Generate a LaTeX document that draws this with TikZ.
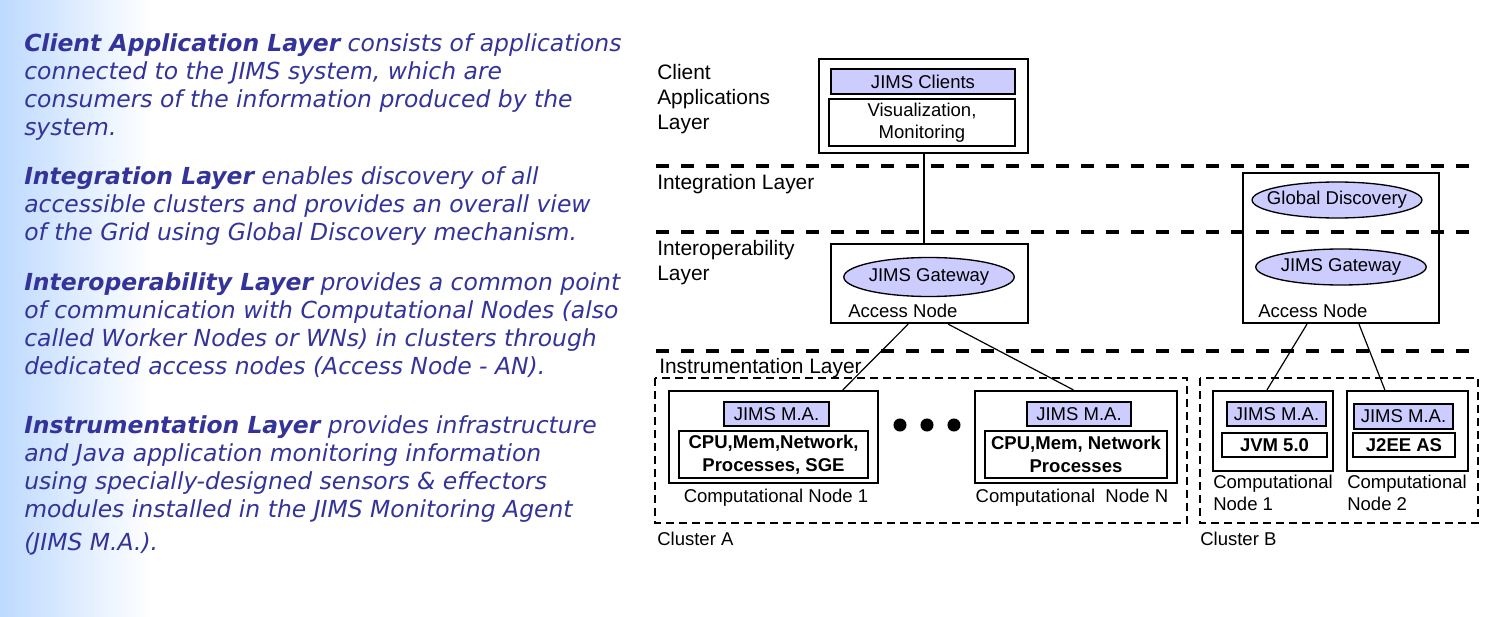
\documentclass[tikz,border=0pt]{standalone}
\usepackage{fontspec}
\setmainfont{Liberation Sans}
\newfontfamily\descfont{DejaVu Sans}
\usepackage{tikz}
\usetikzlibrary{shapes,calc}
\definecolor{bleutexte}{RGB}{51,51,153}
\definecolor{bleufond}{RGB}{190,218,255}
\definecolor{lavande}{RGB}{204,204,255}
\tikzset{desc/.style={
    font=\descfont\itshape\fontsize{17.6}{21}\selectfont,
    text=bleutexte, align=left, anchor=base west, inner sep=0pt}}
\tikzset{couche/.style={
    line width=3pt, dash pattern=on 9.75pt off 9pt}}
\tikzset{grappe/.style={
    line width=1.1pt, dash pattern=on 6pt off 3.75pt}}
\tikzset{boite/.style={
    draw, line width=1.7pt, inner sep=0pt}}
\tikzset{agent/.style={
    boite, fill=lavande}}
\tikzset{passerelle/.style={
    ellipse, draw, line width=1pt, fill=lavande, inner sep=0pt}}
\tikzset{lbl/.style={
    font=\fontsize{15.7}{18.75}\selectfont, align=left, anchor=base west, inner sep=0pt}}
\tikzset{petit/.style={
    font=\fontsize{13.9}{16.5}\selectfont}}
\tikzset{gras/.style={
    font=\bfseries\fontsize{13.9}{17}\selectfont}}
\tikzset{lien/.style={
    line width=0.9pt}}

\begin{document}
\begin{tikzpicture}[x=0.75pt,y=-0.75pt]
\useasboundingbox (0,0) rectangle (1490,617);
  % fond : degrade en bandes
  \foreach \i [evaluate=\i as \p using int(100*\i/60)] in {0,...,59}
    \fill[white!\p!bleufond] (\i*2.5,0) rectangle (\i*2.5+3,617);

  % texte (ancre sur la derniere ligne)
  \node[desc] (pclient) at (24,136) {\textbf{Client Application Layer} consists of applications\\
    connected to the JIMS system, which are\\
    consumers of the information produced by the\\
    system.};
  \node[desc] (pinteg) at (24,240) {\textbf{Integration Layer} enables discovery of all\\
    accessible clusters and provides an overall view\\
    of the Grid using Global Discovery mechanism.};
  \node[desc] (pinterop) at (24,374) {\textbf{Interoperability Layer} provides a common point\\
    of communication with Computational Nodes (also\\
    called Worker Nodes or WNs) in clusters through\\
    dedicated access nodes (Access Node - AN).};
  \node[desc] (pinstr) at (24,550) {\textbf{Instrumentation Layer} provides infrastructure\\
    and Java application monitoring information\\
    using specially-designed sensors \& effectors\\
    modules installed in the JIMS Monitoring Agent\\[3.4pt]
    (JIMS M.A.).};

  % couches
  \draw[couche] (656,166) -- (1478,166);
  \draw[couche] (656,232) -- (1478,232);
  \draw[couche] (656,351) -- (1478,351);
  \node[lbl] (lclient) at (657,130) {Client\\Applications\\Layer};
  \node[lbl] (linteg) at (657,190) {Integration Layer};
  \node[lbl] (linterop) at (657,280.7) {Interoperability\\Layer};
  \node[lbl] (linstr) at (659,373) {Instrumentation Layer};

  % clients
  \node[boite, minimum width=156.75pt, minimum height=70.5pt] (client) at (923.5,106) {};
  \node[agent, petit, minimum width=138pt, minimum height=18.75pt] (jclients) at (923,81.5) {JIMS Clients};
  \node[boite, petit, align=center, minimum width=139.5pt, minimum height=35.25pt] (visu) at (922,122.5) {Visualization,\\Monitoring};

  % noeuds d'acces
  \node[boite, minimum width=147.75pt, minimum height=59.25pt] (anA) at (929.5,283.5) {};
  \node[passerelle, petit, minimum width=127.5pt, minimum height=29.25pt] (gwA) at (929,277) {JIMS Gateway};
  \node[petit, anchor=base west, inner sep=0pt] (lanA) at (848,317) {Access Node};
  \node[boite, minimum width=147pt, minimum height=112.5pt] (anB) at (1341,248) {};
  \node[passerelle, petit, inner xsep=-7.5pt, minimum width=126.75pt, minimum height=27pt] (gd) at (1337,200) {Global Discovery};
  \node[passerelle, petit, minimum width=127.5pt, minimum height=27pt] (gwB) at (1341,267) {JIMS Gateway};
  \node[petit, anchor=base west, inner sep=0pt] (lanB) at (1258,317) {Access Node};

  % cluster A
  \draw[grappe] (655,378) rectangle (1187,523);
  \node[petit, anchor=base west, inner sep=0pt] (lclA) at (657,545) {Cluster A};
  \node[boite, minimum width=156.75pt, minimum height=69pt] (cnA1) at (773.5,437) {};
  \node[agent, petit, minimum width=78.75pt, minimum height=18pt] (maA1) at (776.5,414) {JIMS M.A.};
  \node[boite, gras, align=center, minimum width=141.75pt, minimum height=35.25pt] (resA1) at (773.5,454.5) {CPU,Mem,Network,\\Processes, SGE};
  \node[petit, anchor=base, inner sep=0pt] (lcnA1) at (776,502) {Computational Node 1};
  \fill (900,425) circle[radius=4.9pt];
  \fill (927,425) circle[radius=4.9pt];
  \fill (954,425) circle[radius=4.9pt];
  \node[boite, minimum width=151.5pt, minimum height=69pt] (cnAN) at (1076,437) {};
  \node[agent, petit, minimum width=78pt, minimum height=18pt] (maAN) at (1079,414) {JIMS M.A.};
  \node[boite, gras, align=center, minimum width=136.5pt, minimum height=35.25pt] (resAN) at (1076,454.5) {CPU,Mem, Network\\Processes};
  \node[petit, anchor=base, inner sep=0pt] (lcnAN) at (1072,502) {Computational~~Node N};

  % cluster B
  \draw[grappe] (1200,378) rectangle (1478,523);
  \node[petit, anchor=base west, inner sep=0pt] (lclB) at (1200,545) {Cluster B};
  \node[boite, minimum width=90pt, minimum height=60pt] (cnB1) at (1273,431) {};
  \node[agent, petit, minimum width=74.25pt, minimum height=18pt] (maB1) at (1276.5,414) {JIMS M.A.};
  \node[boite, gras, minimum width=78.75pt, minimum height=18pt] (jvm) at (1274.5,445) {JVM 5.0};
  \node[petit, font=\fontsize{13.9}{17}\selectfont, align=left, anchor=base west, inner sep=0pt] (lcnB1) at (1213,510.7) {Computational\\Node 1};
  \node[boite, minimum width=90.75pt, minimum height=60pt] (cnB2) at (1407.5,431) {};
  \node[agent, petit, minimum width=74.25pt, minimum height=18.75pt] (maB2) at (1403.5,416.5) {JIMS M.A.};
  \node[boite, gras, minimum width=76.5pt, minimum height=18pt] (j2ee) at (1404,445) {J2EE AS};
  \node[petit, font=\fontsize{13.9}{17}\selectfont, align=left, anchor=base west, inner sep=0pt] (lcnB2) at (1347,510.7) {Computational\\Node 2};

  % liens
  \draw[line width=1.5pt] (client.south) -- (client.south |- anA.north);
  \draw[lien] ([xshift=-16pt]anA.south) -- ([xshift=52pt]cnA1.north);
  \draw[lien] ([xshift=14pt]anA.south) -- ([xshift=-2pt]cnAN.north);
  \draw[lien] ([xshift=-25.5pt]anB.south) -- ([xshift=-4.5pt]cnB1.north);
  \draw[lien] ([xshift=13.5pt]anB.south) -- ([xshift=-17pt]cnB2.north);
\end{tikzpicture}
\end{document}
